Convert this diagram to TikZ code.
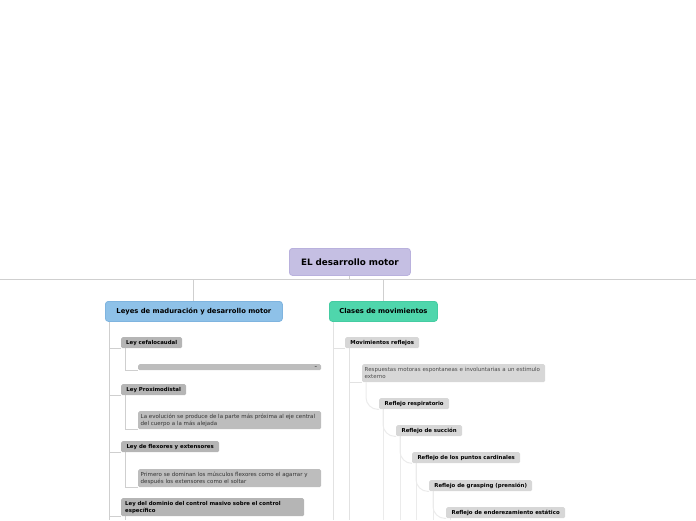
\documentclass[tikz,border=0pt]{standalone}
\usepackage{fontspec}
\setsansfont{DejaVu Sans}
\usepackage{xcolor}
\usepackage{tikz}
\usetikzlibrary{backgrounds}

\definecolor{rootfill}{HTML}{C5BFE3}
\definecolor{rootline}{HTML}{B9B1DD}
\definecolor{leyfill}{HTML}{8EC1E8}
\definecolor{leyline}{HTML}{7FB4DF}
\definecolor{clafill}{HTML}{4FD6AC}
\definecolor{claline}{HTML}{45CCA2}
\definecolor{grisA}{HTML}{B5B5B5}
\definecolor{grisB}{HTML}{BDBDBD}
\definecolor{grisC}{HTML}{D7D7D7}
\definecolor{lineA}{HTML}{CFCFCF}
\definecolor{lineB}{HTML}{E2E2E2}
\definecolor{lineC}{HTML}{EBEBEB}

\begin{document}
\begin{tikzpicture}[x=1pt, y=-1pt,
  main/.style={anchor=north west, draw, rounded corners=3pt, line width=0.8pt,
    inner sep=0pt, align=center, font=\sffamily\bfseries\fontsize{6.8}{8}\selectfont},
  tag/.style={anchor=north west, rounded corners=1.5pt, inner xsep=4pt,
    inner ysep=0pt, minimum height=11pt, minimum width=#1,
    font=\sffamily\bfseries\fontsize{5.4}{7}\selectfont},
  note/.style={anchor=north west, rounded corners=1.5pt, inner xsep=2.5pt,
    inner ysep=0pt, minimum height=18pt, text width=178pt, align=left,
    font=\sffamily\fontsize{5.5}{7}\selectfont},
  link/.style={draw=lineA, line width=1pt},
  linkB/.style={draw=lineB, line width=1pt},
  linkC/.style={draw=lineC, line width=1pt},
  curvelink/.style={draw=lineC, line width=1pt, rounded corners=12pt},
]
\useasboundingbox (0,0) rectangle (696,520);

% central topic and main branches
\node[main, fill=rootfill, draw=rootline, minimum width=121pt, minimum height=27pt,
  font=\sffamily\bfseries\fontsize{8.8}{10}\selectfont] (R) at (289,248) {EL desarrollo motor};
\node[main, fill=leyfill, draw=leyline, minimum width=177pt, minimum height=20pt]
  (L) at (105,301) {Leyes de maduración y desarrollo motor};
\node[main, fill=clafill, draw=claline, minimum width=108pt, minimum height=20pt]
  (C) at (329,301) {Clases de movimientos};

% leyes
\node[tag=61pt, fill=grisA] (L1) at (121,337) {Ley cefalocaudal};
\node[note, fill=grisB, minimum height=6pt, inner xsep=4pt, text width=175pt,
  align=right, text=black!75, font=\sffamily\bfseries\fontsize{5}{5}\selectfont]
  (L1a) at (138,364) {–};
\node[tag=65pt, fill=grisA] (L2) at (121,384) {Ley Proximodistal};
\node[note, fill=grisB, text=black!80] (L2a) at (138,411)
  {La evolución se produce de la parte más próxima al eje central\\del cuerpo a la más alejada};
\node[tag=98pt, fill=grisA] (L3) at (121,441) {Ley de flexores y extensores};
\node[note, fill=grisB, text=black!80] (L3a) at (138,469)
  {Primero se dominan los músculos flexores como el agarrar y\\después los extensores como el soltar};
\node[note, fill=grisA, inner xsep=4pt, text width=175pt,
  font=\sffamily\bfseries\fontsize{5.4}{7}\selectfont] (L4) at (121,498)
  {Ley del dominio del control masivo sobre el control\\específico};

% clases
\node[tag=74pt, fill=grisC] (M) at (345,337) {Movimientos reflejos};
\node[note, fill=grisC, text=black!70] (M1) at (362,364)
  {Respuestas motoras espontaneas e involuntarias a un estimulo\\externo};
\node[tag=70pt, fill=grisC] (F1) at (379,398) {Reflejo respiratorio};
\node[tag=66pt, fill=grisC] (F2) at (396,425) {Reflejo de succión};
\node[tag=108pt, fill=grisC] (F3) at (412,452) {Reflejo de los puntos cardinales};
\node[tag=103pt, fill=grisC] (F4) at (429,480) {Reflejo de grasping (prensión)};
\node[tag=119pt, fill=grisC] (F5) at (446,507) {Reflejo de enderezamiento estático};

\begin{scope}[on background layer]
\coordinate (B) at (0,520);
\coordinate (HL) at (0,279);
\coordinate (HR) at (696,279);
\draw[link] (HL) -- (HR);
\draw[link] (R.south) -- (R.south |- HL);
\draw[link] (L.north) -- (L.north |- HL);
\draw[link] (C.north) -- (C.north |- HL);

% left side
\draw[link] ([xshift=4pt]L.south west) -- ([xshift=4pt]L.south west |- B);
\foreach \n in {L1,L2,L3,L4}
  \draw[link] ([xshift=4pt]L.south west |- \n.south west) -- (\n.south west);
\foreach \a/\b in {L1/L1a,L2/L2a,L3/L3a}
  \draw[link] ([xshift=4pt]\a.south west) |- (\b.south west);
\draw[link] ([xshift=4pt]L4.south west) -- ([xshift=4pt]L4.south west |- B);

% right side
\draw[linkB] ([xshift=4pt]C.south west) -- ([xshift=4pt]C.south west |- B);
\draw[linkB] ([xshift=4pt]C.south west |- M.south west) -- (M.south west);
\draw[linkB] ([xshift=4pt]M.south west) -- ([xshift=4pt]M.south west |- B);
\draw[linkB] ([xshift=4pt]M.south west |- M1.south west) -- (M1.south west);
\draw[curvelink] ([xshift=4pt]M1.south west) |- (F1.south west);
\foreach \a/\b in {F1/F2,F2/F3,F3/F4,F4/F5}{
  \draw[linkC] ([xshift=4pt]\a.south west) -- ([xshift=4pt]\a.south west |- B);
  \draw[curvelink] ([xshift=4pt]\a.south west) |- (\b.south west);
}
\draw[linkC] ([xshift=4pt]F5.south west) -- ([xshift=4pt]F5.south west |- B);
\end{scope}
\end{tikzpicture}
\end{document}
